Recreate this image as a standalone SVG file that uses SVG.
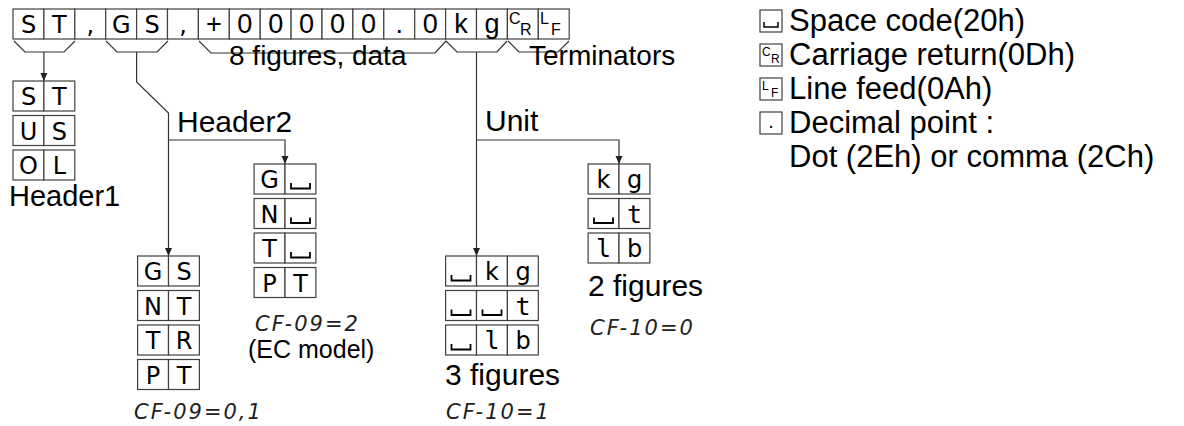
<svg xmlns="http://www.w3.org/2000/svg" width="1184" height="426" viewBox="0 0 1184 426">
<defs>
<style>
.cell{fill:#fff;stroke:#404040;stroke-width:1.2}
.ch{font-family:"DejaVu Sans",sans-serif;font-size:24px;fill:#000;text-anchor:middle}
.dg{font-family:"Liberation Sans",Arial,sans-serif;font-size:27px;fill:#000;text-anchor:middle}
.mono{font-family:"DejaVu Sans Mono",monospace;font-size:25px;fill:#000;text-anchor:middle}
.sm{font-family:"Liberation Sans",Arial,sans-serif;font-size:16px;fill:#000}
.lbl{font-family:"Liberation Sans",Arial,sans-serif;font-size:30px;fill:#000}
.lb2{font-family:"Liberation Sans",Arial,sans-serif;font-size:28px;fill:#000}
.leg{font-family:"Liberation Sans",Arial,sans-serif;font-size:31px;fill:#000}
.seg{font-family:"DejaVu Sans",sans-serif;font-size:21px;font-style:italic;font-weight:200;fill:#222;letter-spacing:2px}
.ln{fill:none;stroke:#333;stroke-width:1.2}
.spc{fill:none;stroke:#000;stroke-width:1.8}
</style>
<path id="sp" class="spc" d="M0,0 V5.5 H19 V0"/>
<marker id="ah" viewBox="0 0 8 10" refX="8" refY="5" markerWidth="8" markerHeight="10" markerUnits="userSpaceOnUse" orient="auto">
<path d="M0,1.5 L8,5 L0,8.5 z" fill="#222"/>
</marker>
</defs>

<g id="frame">
<g class="cells">
<rect class="cell" x="13" y="9" width="30.9" height="30"/>
<rect class="cell" x="43.9" y="9" width="30.9" height="30"/>
<rect class="cell" x="74.8" y="9" width="30.9" height="30"/>
<rect class="cell" x="105.7" y="9" width="30.9" height="30"/>
<rect class="cell" x="136.6" y="9" width="30.9" height="30"/>
<rect class="cell" x="167.5" y="9" width="30.9" height="30"/>
<rect class="cell" x="198.4" y="9" width="30.9" height="30"/>
<rect class="cell" x="229.3" y="9" width="30.9" height="30"/>
<rect class="cell" x="260.2" y="9" width="30.9" height="30"/>
<rect class="cell" x="291.1" y="9" width="30.9" height="30"/>
<rect class="cell" x="322" y="9" width="30.9" height="30"/>
<rect class="cell" x="352.9" y="9" width="30.9" height="30"/>
<rect class="cell" x="383.8" y="9" width="30.9" height="30"/>
<rect class="cell" x="414.7" y="9" width="30.9" height="30"/>
<rect class="cell" x="445.6" y="9" width="30.9" height="30"/>
<rect class="cell" x="476.5" y="9" width="30.9" height="30"/>
<rect class="cell" x="507.4" y="9" width="30.9" height="30"/>
<rect class="cell" x="538.3" y="9" width="30.9" height="30"/>
</g>
<text class="ch" x="28.5" y="33">S</text>
<text class="ch" x="59.4" y="33">T</text>
<text class="ch" x="90.3" y="33">,</text>
<text class="ch" x="121.2" y="33">G</text>
<text class="ch" x="152.1" y="33">S</text>
<text class="ch" x="183" y="33">,</text>
<text class="dg" x="213.9" y="33">+</text>
<text class="dg" x="244.8" y="33">0</text>
<text class="dg" x="275.7" y="33">0</text>
<text class="dg" x="306.6" y="33">0</text>
<text class="dg" x="337.5" y="33">0</text>
<text class="dg" x="368.4" y="33">0</text>
<text class="dg" x="399.3" y="33">.</text>
<text class="dg" x="430.2" y="33">0</text>
<text class="dg" x="461.1" y="33">k</text>
<text class="dg" x="492" y="33">g</text>
<text class="sm" x="509" y="24">C</text>
<text class="sm" x="520" y="35">R</text>
<text class="sm" x="540" y="24">L</text>
<text class="sm" x="551" y="35">F</text>
</g>

<g id="connectors">
<path class="ln" d="M14,41 L25,52 L64,52 L75,41"/>
<path class="ln" d="M106,41 L117,52 L157,52 L168,41"/>
<path class="ln" d="M199,41 L211,53 L435,53 L446,41"/>
<path class="ln" d="M446,41 L457,52 L497,52 L507,41"/>
<path class="ln" d="M508,41 L519,52 L558,52 L569,41"/>
<path class="ln" d="M43.9,52 L43.9,81" marker-end="url(#ah)"/>
<path class="ln" d="M136.6,52 L136.6,82 L168.5,113 L168.5,256" marker-end="url(#ah)"/>
<path class="ln" d="M168.5,140 L285,140 L285,164" marker-end="url(#ah)"/>
<path class="ln" d="M476.5,52 L476.5,256" marker-end="url(#ah)"/>
<path class="ln" d="M476.5,140 L619,140 L619,164" marker-end="url(#ah)"/>
</g>

<g id="labels">
<text class="lb2" x="229" y="65">8 figures, data</text>
<text class="lb2" x="529" y="65">Terminators</text>
<text class="lbl" x="177" y="132">Header2</text>
<text class="lbl" x="485" y="131">Unit</text>
</g>

<g id="header1">
<rect class="cell" x="13" y="81" width="30.9" height="30"/><rect class="cell" x="43.9" y="81" width="30.9" height="30"/>
<rect class="cell" x="13" y="115.5" width="30.9" height="30"/><rect class="cell" x="43.9" y="115.5" width="30.9" height="30"/>
<rect class="cell" x="13" y="150" width="30.9" height="30"/><rect class="cell" x="43.9" y="150" width="30.9" height="30"/>
<text class="ch" x="28.5" y="105">S</text><text class="ch" x="59.4" y="105">T</text>
<text class="ch" x="28.5" y="139.5">U</text><text class="ch" x="59.4" y="139.5">S</text>
<text class="ch" x="28.5" y="174">O</text><text class="ch" x="59.4" y="174">L</text>
<text class="lbl" x="9" y="206" style="font-size:29px">Header1</text>
</g>

<g id="header2a">
<rect class="cell" x="137.6" y="256" width="30.9" height="30"/><rect class="cell" x="168.5" y="256" width="30.9" height="30"/>
<rect class="cell" x="137.6" y="290.5" width="30.9" height="30"/><rect class="cell" x="168.5" y="290.5" width="30.9" height="30"/>
<rect class="cell" x="137.6" y="325" width="30.9" height="30"/><rect class="cell" x="168.5" y="325" width="30.9" height="30"/>
<rect class="cell" x="137.6" y="359.5" width="30.9" height="30"/><rect class="cell" x="168.5" y="359.5" width="30.9" height="30"/>
<text class="ch" x="153" y="280">G</text><text class="ch" x="184" y="280">S</text>
<text class="ch" x="153" y="314.5">N</text><text class="ch" x="184" y="314.5">T</text>
<text class="ch" x="153" y="349">T</text><text class="ch" x="184" y="349">R</text>
<text class="ch" x="153" y="383.5">P</text><text class="ch" x="184" y="383.5">T</text>
<text class="seg" x="134" y="419">CF-09=0,1</text>
</g>

<g id="header2b">
<rect class="cell" x="254.1" y="164" width="30.9" height="30"/><rect class="cell" x="285" y="164" width="30.9" height="30"/>
<rect class="cell" x="254.1" y="198.5" width="30.9" height="30"/><rect class="cell" x="285" y="198.5" width="30.9" height="30"/>
<rect class="cell" x="254.1" y="233" width="30.9" height="30"/><rect class="cell" x="285" y="233" width="30.9" height="30"/>
<rect class="cell" x="254.1" y="267.5" width="30.9" height="30"/><rect class="cell" x="285" y="267.5" width="30.9" height="30"/>
<text class="ch" x="269.5" y="188">G</text><use href="#sp" x="291" y="183"/>
<text class="ch" x="269.5" y="222.5">N</text><use href="#sp" x="291" y="217.5"/>
<text class="ch" x="269.5" y="257">T</text><use href="#sp" x="291" y="252"/>
<text class="ch" x="269.5" y="291.5">P</text><text class="ch" x="300.5" y="291.5">T</text>
<text class="seg" x="255" y="331">CF-09=2</text>
<text class="lbl" x="248" y="358" style="font-size:25px">(EC model)</text>
</g>

<g id="unit3">
<rect class="cell" x="445.6" y="256" width="30.9" height="30"/><rect class="cell" x="476.5" y="256" width="30.9" height="30"/><rect class="cell" x="507.4" y="256" width="30.9" height="30"/>
<rect class="cell" x="445.6" y="290.5" width="30.9" height="30"/><rect class="cell" x="476.5" y="290.5" width="30.9" height="30"/><rect class="cell" x="507.4" y="290.5" width="30.9" height="30"/>
<rect class="cell" x="445.6" y="325" width="30.9" height="30"/><rect class="cell" x="476.5" y="325" width="30.9" height="30"/><rect class="cell" x="507.4" y="325" width="30.9" height="30"/>
<use href="#sp" x="451.5" y="275"/><text class="ch" x="492" y="280">k</text><text class="ch" x="523" y="280">g</text>
<use href="#sp" x="451.5" y="309.5"/><use href="#sp" x="482.5" y="309.5"/><text class="mono" x="523" y="314.5">t</text>
<use href="#sp" x="451.5" y="344"/><text class="mono" x="492" y="349">l</text><text class="ch" x="523" y="349">b</text>
<text class="lbl" x="445" y="385">3 figures</text>
<text class="seg" x="446" y="419">CF-10=1</text>
</g>

<g id="unit2">
<rect class="cell" x="588.1" y="164" width="30.9" height="30"/><rect class="cell" x="619" y="164" width="30.9" height="30"/>
<rect class="cell" x="588.1" y="198.5" width="30.9" height="30"/><rect class="cell" x="619" y="198.5" width="30.9" height="30"/>
<rect class="cell" x="588.1" y="233" width="30.9" height="30"/><rect class="cell" x="619" y="233" width="30.9" height="30"/>
<text class="ch" x="603.5" y="188">k</text><text class="ch" x="634.5" y="188">g</text>
<use href="#sp" x="594" y="217.5"/><text class="mono" x="634.5" y="222.5">t</text>
<text class="mono" x="603.5" y="257">l</text><text class="ch" x="634.5" y="257">b</text>
<text class="lbl" x="588" y="296">2 figures</text>
<text class="seg" x="590" y="335">CF-10=0</text>
</g>

<g id="legend">
<rect class="cell" x="760" y="10" width="22" height="22"/>
<path class="spc" d="M764,22 V27 H778 V22" style="stroke-width:1.5"/>
<rect class="cell" x="760" y="44" width="22" height="22"/>
<text class="sm" x="762" y="56" style="font-size:12px">C</text><text class="sm" x="771" y="63" style="font-size:12px">R</text>
<rect class="cell" x="760" y="78" width="22" height="22"/>
<text class="sm" x="762" y="90" style="font-size:12px">L</text><text class="sm" x="771" y="97" style="font-size:12px">F</text>
<rect class="cell" x="760" y="112" width="22" height="22"/>
<text class="dg" x="771" y="128" style="font-size:20px">.</text>
<text class="leg" x="789" y="31">Space code(20h)</text>
<text class="leg" x="789" y="65">Carriage return(0Dh)</text>
<text class="leg" x="789" y="99">Line feed(0Ah)</text>
<text class="leg" x="789" y="133">Decimal point :</text>
<text class="leg" x="789" y="167">Dot (2Eh) or comma (2Ch)</text>
</g>
</svg>
